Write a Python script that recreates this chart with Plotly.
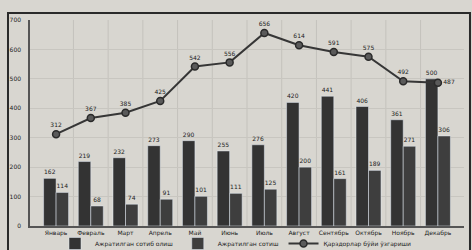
import plotly.graph_objects as go

months = ["Январь", "Февраль", "Март", "Апрель", "Май", "Июнь", "Июль",
          "Август", "Сентябрь", "Октябрь", "Ноябрь", "Декабрь"]
series1 = [162, 219, 232, 273, 290, 255, 276, 420, 441, 406, 361, 500]
series2 = [114, 68, 74, 91, 101, 111, 125, 200, 161, 189, 271, 306]
line_vals = [312, 367, 385, 425, 542, 556, 656, 614, 591, 575, 492, 487]
names = ["Ажратилган сотиб олиш", "Ажратилган сотиш", "Қарздорлар бўйи ўзгариши"]
yticks = [0, 100, 200, 300, 400, 500, 600, 700]

bg = "#d8d6d0"
dark = "#363636"
txt = "#222222"
font = "DejaVu Sans"

line_pos = ["top center"] * (len(months) - 1) + ["middle right"]

fig = go.Figure()
fig.add_trace(go.Bar(x=months, y=series1, name=names[0], marker_color="#333333",
                     text=series1, textposition="outside", cliponaxis=False,
                     textfont=dict(size=6, color=txt, family=font)))
fig.add_trace(go.Bar(x=months, y=series2, name=names[1], marker_color="#3e3e3e",
                     text=series2, textposition="outside", cliponaxis=False,
                     textfont=dict(size=6, color=txt, family=font)))
fig.add_trace(go.Scatter(x=months, y=line_vals, name=names[2], mode="lines+markers+text",
                         line=dict(color=dark, width=2),
                         marker=dict(size=7, color="#5a5a5a", line=dict(color="#2a2a2a", width=1.5)),
                         text=line_vals, textposition=line_pos, cliponaxis=False,
                         textfont=dict(size=6, color=txt, family=font)))

fig.update_layout(
    width=472, height=250,
    margin=dict(l=30, r=8, t=20, b=24, autoexpand=False),
    paper_bgcolor=bg, plot_bgcolor=bg,
    barmode="group", bargap=0.28, bargroupgap=0,
    font=dict(family=font, size=6, color=txt),
    showlegend=True,
    legend=dict(orientation="h", xref="container", yref="container",
                x=0.5, xanchor="center", y=0.026, yanchor="middle",
                font=dict(size=6, color=txt, family=font), bgcolor="rgba(0,0,0,0)",
                itemwidth=30, tracegroupgap=0),
    xaxis=dict(showgrid=False, tickfont=dict(size=6, family=font, color=txt),
               showline=True, linecolor="#555555", linewidth=1.5, ticks="", ticklen=0,
               automargin=False, ticklabelstandoff=0),
    yaxis=dict(range=[0, 700], tickvals=yticks, showgrid=True, gridcolor="#c8c6c0",
               tickfont=dict(size=6, family=font, color=txt), zeroline=False,
               showline=True, linecolor="#555555", linewidth=1.5, ticklen=0,
               automargin=False, ticklabelstandoff=6),
    shapes=[dict(type="rect", xref="paper", yref="paper", x0=-0.0507, x1=1.0138,
                 y0=-0.13, y1=1.034, line=dict(color="#2a2a2a", width=2),
                 fillcolor="rgba(0,0,0,0)", layer="above")],
)
for i in range(1, len(months)):
    fig.add_vline(x=i - 0.5, line=dict(color="#c4c2bc", width=1), layer="below")

fig.write_html("out.html",
               config={"displayModeBar": False},
               post_script="document.body.style.margin='0';document.body.style.padding='0';"
                           "document.body.style.overflow='hidden';"
                           "document.body.style.background='" + bg + "';")
